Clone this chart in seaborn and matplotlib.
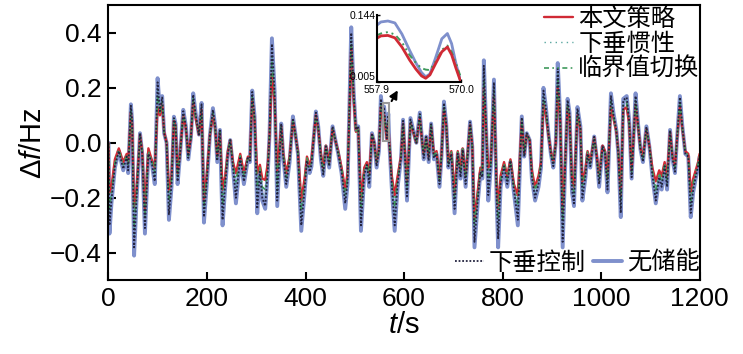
import matplotlib
matplotlib.use("Agg")
import matplotlib.pyplot as plt
from matplotlib.patches import Rectangle
import pandas as pd
import seaborn as sns

# time stamps (s) of the read-off points
t = [0, 2, 6, 13, 21, 30, 37, 40, 45.5, 48,
     52, 57, 64, 68.5, 74, 81, 87.5, 94, 99.7, 104.4,
     109, 113, 118, 122.7, 128, 132.8, 136.2, 140.3, 145, 151.8,
     157.2, 162, 167.4, 172, 176.8, 183.6, 189, 193.8, 199.2, 206,
     212, 216.7, 220.8, 226.2, 231.6, 237, 242.4, 247.2, 252.6, 258.7,
     267.5, 274.9, 283, 287, 291.8, 296.6, 302, 307.4, 312.2, 318.2,
     323.7, 327, 331.8, 337.2, 342.6, 350.7, 354.8, 360.9, 367.7, 374.4,
     379.2, 384.6, 391.4, 398.1, 402.9, 408.3, 412, 421, 425.8, 431.2,
     436, 441.4, 448.1, 454.9, 461.7, 466.4, 473.2, 480.6, 485.4, 490.1,
     492.8, 497.6, 502.3, 507, 512.5, 519.2, 524.6, 529.4, 534.8, 539.5,
     544.3, 549, 553, 556, 559.5, 562.6, 565, 568, 570, 575,
     581, 587, 593.7, 598, 606, 613, 620, 625, 632, 637,
     640, 645, 650, 655, 660.6, 666, 672, 676, 681, 685.7,
     690, 696, 702.6, 709, 714.8, 719, 725, 734, 738.5, 743,
     750, 755, 759, 762, 767, 771, 776, 782.5, 788, 791,
     796, 803, 809.6, 816, 823, 831, 839, 844, 849, 855,
     859.5, 866, 873, 878, 883, 888, 893, 898, 903, 908,
     912, 917, 922, 927, 932, 936, 941, 945, 952, 958,
     962, 968, 972.5, 978, 986, 991.5, 996, 1003, 1008, 1013,
     1020, 1025, 1031, 1035, 1040, 1045, 1052, 1057, 1062, 1070,
     1075, 1080, 1085, 1092, 1098, 1104, 1111, 1118, 1123, 1129,
     1134, 1140, 1145, 1150, 1154, 1160, 1165, 1171, 1177, 1182,
     1187, 1192, 1197, 1200]

# 无储能
no_storage = [0.0, -0.33, -0.22, -0.09, -0.03, -0.10, -0.05, -0.11, 0.14, 0.08,
              -0.41, -0.21, 0.035, -0.04, -0.33, -0.04, -0.07, -0.15, 0.235, 0.12,
              0.17, 0.035, 0.0, -0.28, -0.16, 0.095, 0.07, -0.15, -0.05, 0.12,
              0.06, -0.06, 0.02, 0.18, 0.11, 0.03, 0.145, -0.29, -0.16, 0.03,
              0.126, 0.06, -0.07, 0.047, -0.30, -0.16, -0.04, 0.01, -0.09, -0.22,
              -0.056, -0.15, -0.06, -0.07, 0.19, 0.096, -0.256, -0.11, -0.21, -0.24,
              -0.10, 0.035, 0.38, 0.19, -0.23, 0.07, -0.05, -0.16, -0.07, 0.096,
              0.035, -0.04, -0.32, -0.18, -0.07, -0.11, -0.086, 0.114, 0.06, -0.06,
              -0.12, -0.013, -0.09, 0.06, 0.0, -0.04, -0.11, -0.24, -0.15, 0.217,
              0.42, 0.19, 0.047, 0.06, -0.32, -0.12, -0.086, -0.16, 0.035, 0.0,
              -0.09, -0.03, 0.17, 0.12, 0.132, 0.07, 0.016, 0.106, 0.005, -0.16,
              -0.32, -0.16, -0.06, 0.084, -0.21, 0.09, 0.035, 0.0, 0.11, 0.0,
              -0.06, 0.023, -0.07, 0.07, -0.06, -0.04, -0.16, -0.05, 0.15, 0.07,
              -0.09, -0.04, -0.256, -0.04, -0.13, -0.025, -0.16, 0.077, -0.013, -0.38,
              -0.21, -0.11, -0.13, 0.30, 0.035, -0.21, -0.09, 0.23, -0.21, -0.38,
              -0.16, -0.09, -0.16, -0.07, -0.18, -0.30, 0.096, -0.05, 0.035, 0.01,
              -0.13, -0.21, -0.16, -0.09, 0.20, 0.13, 0.035, -0.04, -0.09, 0.0,
              0.29, 0.096, -0.38, -0.09, 0.16, 0.11, -0.18, -0.23, 0.13, 0.06,
              -0.21, -0.13, -0.04, -0.09, 0.023, -0.06, -0.16, -0.013, -0.04, -0.18,
              0.18, 0.11, 0.047, -0.04, -0.27, 0.16, 0.17, 0.084, -0.13, 0.18,
              0.07, -0.025, -0.07, 0.06, -0.013, -0.12, -0.22, -0.13, -0.17, -0.09,
              -0.17, 0.047, -0.06, -0.11, 0.01, 0.17, 0.06, -0.04, -0.05, -0.27,
              -0.18, -0.13, -0.09, -0.05]

# 下垂控制
droop = [0.0, -0.30, -0.21, -0.085, -0.03, -0.095, -0.05, -0.10, 0.135, 0.08,
         -0.38, -0.20, 0.035, -0.04, -0.31, -0.04, -0.07, -0.14, 0.22, 0.115,
         0.165, 0.035, 0.0, -0.26, -0.15, 0.09, 0.07, -0.14, -0.05, 0.115,
         0.06, -0.055, 0.02, 0.175, 0.105, 0.03, 0.14, -0.27, -0.15, 0.03,
         0.12, 0.06, -0.065, 0.045, -0.28, -0.15, -0.04, 0.01, -0.085, -0.20,
         -0.055, -0.14, -0.055, -0.065, 0.185, 0.09, -0.24, -0.105, -0.20, -0.23,
         -0.095, 0.035, 0.36, 0.185, -0.21, 0.07, -0.05, -0.15, -0.065, 0.09,
         0.035, -0.04, -0.30, -0.17, -0.065, -0.105, -0.08, 0.11, 0.06, -0.055,
         -0.115, -0.013, -0.085, 0.06, 0.0, -0.04, -0.105, -0.22, -0.14, 0.21,
         0.40, 0.185, 0.047, 0.06, -0.30, -0.115, -0.08, -0.15, 0.035, 0.0,
         -0.085, -0.03, 0.16, 0.115, 0.125, 0.066, 0.016, 0.10, 0.005, -0.15,
         -0.30, -0.15, -0.055, 0.08, -0.20, 0.085, 0.035, 0.0, 0.105, 0.0,
         -0.055, 0.022, -0.065, 0.068, -0.055, -0.04, -0.15, -0.05, 0.145, 0.068,
         -0.085, -0.04, -0.24, -0.04, -0.125, -0.025, -0.15, 0.075, -0.013, -0.36,
         -0.20, -0.105, -0.125, 0.28, 0.035, -0.19, -0.085, 0.22, -0.20, -0.35,
         -0.15, -0.085, -0.15, -0.065, -0.17, -0.28, 0.092, -0.05, 0.035, 0.01,
         -0.125, -0.20, -0.15, -0.085, 0.19, 0.125, 0.035, -0.04, -0.085, 0.0,
         0.27, 0.092, -0.36, -0.085, 0.155, 0.105, -0.17, -0.22, 0.125, 0.058,
         -0.20, -0.125, -0.04, -0.085, 0.022, -0.058, -0.15, -0.013, -0.04, -0.17,
         0.17, 0.105, 0.045, -0.04, -0.255, 0.155, 0.165, 0.08, -0.125, 0.17,
         0.068, -0.025, -0.068, 0.058, -0.013, -0.115, -0.21, -0.125, -0.16, -0.085,
         -0.16, 0.045, -0.058, -0.105, 0.01, 0.165, 0.058, -0.04, -0.05, -0.255,
         -0.17, -0.125, -0.085, -0.05]

# 下垂惯性
droop_inertia = [0.0, -0.27, -0.19, -0.08, -0.025, -0.085, -0.045, -0.09, 0.125, 0.075,
                 -0.34, -0.19, 0.033, -0.035, -0.28, -0.035, -0.065, -0.125, 0.20, 0.11,
                 0.155, 0.035, 0.0, -0.23, -0.14, 0.085, 0.065, -0.13, -0.045, 0.11,
                 0.055, -0.05, 0.02, 0.165, 0.10, 0.03, 0.13, -0.25, -0.14, 0.03,
                 0.115, 0.055, -0.06, 0.043, -0.25, -0.14, -0.035, 0.01, -0.08, -0.17,
                 -0.05, -0.13, -0.055, -0.065, 0.175, 0.09, -0.20, -0.095, -0.18, -0.20,
                 -0.09, 0.033, 0.33, 0.175, -0.18, 0.065, -0.045, -0.135, -0.06, 0.088,
                 0.033, -0.035, -0.27, -0.155, -0.06, -0.095, -0.075, 0.105, 0.055, -0.05,
                 -0.105, -0.012, -0.08, 0.055, 0.0, -0.035, -0.10, -0.20, -0.13, 0.20,
                 0.38, 0.175, 0.045, 0.056, -0.27, -0.105, -0.078, -0.135, 0.033, 0.0,
                 -0.08, -0.028, 0.15, 0.105, 0.109, 0.061, 0.030, 0.081, 0.012, -0.14,
                 -0.26, -0.14, -0.052, 0.075, -0.18, 0.08, 0.033, 0.0, 0.10, 0.0,
                 -0.05, 0.021, -0.06, 0.065, -0.05, -0.035, -0.145, -0.045, 0.135, 0.065,
                 -0.08, -0.035, -0.22, -0.035, -0.115, -0.023, -0.14, 0.072, -0.012, -0.33,
                 -0.19, -0.10, -0.115, 0.26, 0.033, -0.16, -0.08, 0.20, -0.18, -0.31,
                 -0.14, -0.08, -0.14, -0.065, -0.165, -0.25, 0.088, -0.045, 0.033, 0.01,
                 -0.115, -0.185, -0.14, -0.08, 0.175, 0.115, 0.033, -0.035, -0.08, 0.0,
                 0.25, 0.088, -0.32, -0.08, 0.145, 0.10, -0.155, -0.20, 0.115, 0.055,
                 -0.18, -0.115, -0.035, -0.08, 0.021, -0.055, -0.14, -0.012, -0.035, -0.155,
                 0.16, 0.10, 0.043, -0.035, -0.23, 0.145, 0.155, 0.078, -0.115, 0.16,
                 0.065, -0.023, -0.063, 0.055, -0.012, -0.105, -0.19, -0.115, -0.15, -0.08,
                 -0.15, 0.043, -0.055, -0.097, 0.01, 0.155, 0.055, -0.035, -0.047, -0.23,
                 -0.16, -0.115, -0.08, -0.048]

# 临界值切换
threshold_switch = [0.0, -0.24, -0.18, -0.075, -0.025, -0.08, -0.045, -0.085, 0.12, 0.073,
                    -0.30, -0.18, 0.032, -0.033, -0.27, -0.03, -0.063, -0.11, 0.17, 0.105,
                    0.15, 0.037, 0.0, -0.21, -0.13, 0.083, 0.063, -0.12, -0.043, 0.105,
                    0.053, -0.047, 0.02, 0.16, 0.095, 0.03, 0.125, -0.23, -0.13, 0.03,
                    0.11, 0.053, -0.055, 0.042, -0.22, -0.13, -0.033, 0.01, -0.075, -0.14,
                    -0.047, -0.12, -0.053, -0.063, 0.17, 0.085, -0.16, -0.09, -0.16, -0.17,
                    -0.08, 0.032, 0.30, 0.165, -0.15, 0.063, -0.043, -0.125, -0.055, 0.085,
                    0.032, -0.033, -0.24, -0.145, -0.055, -0.09, -0.07, 0.10, 0.053, -0.045,
                    -0.10, -0.011, -0.075, 0.053, 0.0, -0.033, -0.095, -0.19, -0.12, 0.19,
                    0.37, 0.17, 0.043, 0.053, -0.24, -0.10, -0.075, -0.125, 0.032, 0.0,
                    -0.075, -0.025, 0.14, 0.10, 0.105, 0.058, 0.025, 0.08, 0.01, -0.13,
                    -0.23, -0.13, -0.05, 0.072, -0.16, 0.075, 0.032, 0.0, 0.095, 0.0,
                    -0.045, 0.02, -0.055, 0.063, -0.045, -0.033, -0.14, -0.043, 0.13, 0.063,
                    -0.075, -0.033, -0.20, -0.033, -0.11, -0.022, -0.13, 0.07, -0.011, -0.30,
                    -0.18, -0.095, -0.11, 0.23, 0.032, -0.13, -0.075, 0.19, -0.165, -0.27,
                    -0.13, -0.075, -0.13, -0.063, -0.16, -0.22, 0.085, -0.043, 0.032, 0.01,
                    -0.11, -0.17, -0.13, -0.075, 0.16, 0.11, 0.032, -0.033, -0.075, 0.0,
                    0.23, 0.085, -0.29, -0.075, 0.14, 0.095, -0.145, -0.18, 0.11, 0.053,
                    -0.16, -0.11, -0.033, -0.075, 0.02, -0.053, -0.13, -0.011, -0.033, -0.145,
                    0.15, 0.095, 0.042, -0.033, -0.21, 0.135, 0.145, 0.075, -0.11, 0.15,
                    0.063, -0.022, -0.06, 0.053, -0.011, -0.10, -0.17, -0.11, -0.14, -0.075,
                    -0.14, 0.042, -0.053, -0.09, 0.01, 0.145, 0.053, -0.033, -0.045, -0.21,
                    -0.145, -0.105, -0.075, -0.045]

# 本文策略
proposed = [0.0, -0.18, -0.16, -0.06, -0.02, -0.07, -0.04, -0.07, 0.11, 0.07,
            -0.23, -0.17, 0.03, -0.03, -0.24, -0.02, -0.06, -0.09, 0.13, 0.10,
            0.14, 0.04, 0.0, -0.17, -0.12, 0.08, 0.06, -0.11, -0.04, 0.10,
            0.05, -0.04, 0.02, 0.15, 0.09, 0.03, 0.12, -0.21, -0.12, 0.03,
            0.10, 0.05, -0.05, 0.04, -0.17, -0.12, -0.03, 0.01, -0.07, -0.11,
            -0.04, -0.11, -0.05, -0.06, 0.16, 0.08, -0.11, -0.08, -0.13, -0.135,
            -0.07, 0.03, 0.25, 0.15, -0.10, 0.06, -0.04, -0.11, -0.05, 0.08,
            0.03, -0.03, -0.21, -0.13, -0.05, -0.08, -0.06, 0.10, 0.05, -0.04,
            -0.09, -0.01, -0.07, 0.05, 0.0, -0.03, -0.09, -0.17, -0.11, 0.17,
            0.35, 0.16, 0.04, 0.05, -0.21, -0.09, -0.07, -0.11, 0.03, 0.0,
            -0.07, -0.02, 0.13, 0.09, 0.10, 0.05, 0.013, 0.078, 0.005, -0.12,
            -0.19, -0.12, -0.05, 0.07, -0.14, 0.07, 0.03, 0.0, 0.09, 0.0,
            -0.04, 0.02, -0.05, 0.06, -0.04, -0.03, -0.13, -0.04, 0.12, 0.06,
            -0.07, -0.03, -0.18, -0.03, -0.10, -0.02, -0.12, 0.065, -0.01, -0.28,
            -0.17, -0.09, -0.10, 0.20, 0.03, -0.09, -0.07, 0.17, -0.15, -0.24,
            -0.12, -0.07, -0.12, -0.06, -0.15, -0.19, 0.08, -0.04, 0.03, 0.01,
            -0.10, -0.16, -0.12, -0.07, 0.14, 0.10, 0.03, -0.03, -0.07, 0.0,
            0.20, 0.08, -0.25, -0.07, 0.13, 0.09, -0.13, -0.16, 0.10, 0.05,
            -0.14, -0.10, -0.03, -0.07, 0.02, -0.05, -0.12, -0.01, -0.03, -0.13,
            0.13, 0.09, 0.04, -0.03, -0.19, 0.12, 0.13, 0.07, -0.10, 0.14,
            0.06, -0.02, -0.05, 0.05, -0.01, -0.09, -0.14, -0.10, -0.12, -0.07,
            -0.12, 0.04, -0.05, -0.08, 0.01, 0.13, 0.05, -0.03, -0.04, -0.18,
            -0.13, -0.10, -0.07, -0.04]

# zoomed window 557.9 - 570.0 s
zoom_t = [557.9, 558.5, 559.5, 560.5, 561.5, 562.6, 563.5, 564.3, 564.9,
          565.5, 566.3, 567.2, 568.0, 568.6, 569.2, 569.8, 570.0]
zoom_no_storage = [0.123, 0.130, 0.132, 0.128, 0.105, 0.071, 0.045, 0.025, 0.016,
                   0.022, 0.055, 0.095, 0.106, 0.085, 0.045, 0.012, 0.005]
zoom_inertia = [0.102, 0.106, 0.109, 0.104, 0.088, 0.061, 0.045, 0.034, 0.031,
                0.030, 0.048, 0.072, 0.081, 0.068, 0.045, 0.020, 0.012]
zoom_proposed = [0.096, 0.101, 0.102, 0.097, 0.078, 0.051, 0.032, 0.018, 0.013,
                 0.020, 0.043, 0.068, 0.078, 0.062, 0.035, 0.010, 0.005]

BLUE = "#7f90cc"
RED = "#d02a35"
GREEN = "#3f9a5c"
DOTS = "#23233f"

sns.set_theme(style="ticks")
plt.rcParams["font.family"] = ["Liberation Sans", "Noto Sans CJK SC"]
plt.rcParams["mathtext.fontset"] = "custom"
plt.rcParams["mathtext.it"] = "Liberation Sans:italic"
plt.rcParams["mathtext.rm"] = "Liberation Sans"
plt.rcParams["text.color"] = "black"
plt.rcParams["axes.labelcolor"] = "black"
plt.rcParams["xtick.color"] = "black"
plt.rcParams["ytick.color"] = "black"

df = pd.DataFrame({"t": t, "no_storage": no_storage, "droop": droop,
                   "inertia": droop_inertia, "switch": threshold_switch,
                   "proposed": proposed})
dz = pd.DataFrame({"t": zoom_t, "no_storage": zoom_no_storage,
                   "inertia": zoom_inertia, "proposed": zoom_proposed})

fig = plt.figure(figsize=(7.43, 3.54), dpi=100)
ax = fig.add_axes([0.146, 0.208, 0.7956, 0.777])

sns.lineplot(data=df, x="t", y="no_storage", ax=ax, color=BLUE, lw=2.8)
sns.lineplot(data=df, x="t", y="proposed", ax=ax, color=RED, lw=1.7)
sns.lineplot(data=df, x="t", y="inertia", ax=ax, color="#5aa7a0", lw=1.0,
             linestyle=(0, (1, 3)))
sns.lineplot(data=df, x="t", y="switch", ax=ax, color=GREEN, lw=1.2,
             linestyle=(0, (3, 2, 1, 2, 1, 2)))
sns.lineplot(data=df, x="t", y="droop", ax=ax, color=DOTS, lw=1.3,
             linestyle=(0, (1, 1)))
h_blue, h_red, h_inertia, h_switch, h_droop = ax.lines[:5]

ax.set_xlim(0, 1200)
ax.set_ylim(-0.5, 0.5)
ax.set_xticks(range(0, 1201, 200))
ax.set_yticks([-0.4, -0.2, 0.0, 0.2, 0.4])
ax.tick_params(direction="in", length=6, width=1.5, labelsize=19, pad=5,
               colors="black")
for s in ax.spines.values():
    s.set_linewidth(1.5)
    s.set_color("black")
ax.set_xlabel("$t$/s", fontsize=21, labelpad=0)
ax.set_ylabel("Δ$f$/Hz", fontsize=21, labelpad=2)

leg1 = ax.legend([h_red, h_inertia, h_switch], ["本文策略", "下垂惯性", "临界值切换"],
                 loc="upper right", bbox_to_anchor=(1.0, 0.99), frameon=False,
                 fontsize=17.5, handlelength=1.2, handletextpad=0.2,
                 labelspacing=0.1, borderpad=0, borderaxespad=0)
ax.add_artist(leg1)
ax.legend([h_droop, h_blue], ["下垂控制", "无储能"], loc="lower right",
          bbox_to_anchor=(1.0, 0.02), frameon=False, fontsize=17.5, ncol=2,
          handlelength=1.2, handletextpad=0.2, columnspacing=0.3,
          borderpad=0, borderaxespad=0)

# zoom box and arrow
ax.add_patch(Rectangle((557.9, 0.005), 12.1, 0.139, fill=False,
                       edgecolor="#9a9a9a", lw=1.5, zorder=6))
ax.annotate("", xy=(590, 0.2), xytext=(572, 0.143),
            arrowprops=dict(arrowstyle="-|>", color="black", lw=1.5,
                            mutation_scale=12), zorder=7)

# inset
axin = fig.add_axes([0.507, 0.768, 0.114, 0.189])
sns.lineplot(data=dz, x="t", y="no_storage", ax=axin, color=BLUE, lw=2.0)
sns.lineplot(data=dz, x="t", y="inertia", ax=axin, color=GREEN, lw=1.4,
             linestyle=(0, (3, 2, 1, 2, 1, 2)))
sns.lineplot(data=dz, x="t", y="proposed", ax=axin, color=RED, lw=2.0)
axin.set_xlim(557.9, 570.0)
axin.set_ylim(0.005, 0.144)
axin.set_xticks([557.9, 570.0])
axin.set_xticklabels(["557.9", "570.0"])
axin.set_yticks([0.005, 0.144])
axin.set_yticklabels(["0.005", "0.144"])
axin.tick_params(direction="in", length=2, width=1, labelsize=7.5, pad=1,
                 colors="black")
axin.tick_params(axis="x", pad=2)
axin.get_yticklabels()[0].set_va("bottom")
axin.set_xlabel("")
axin.set_ylabel("")
axin.spines["top"].set_visible(False)
axin.spines["right"].set_visible(False)
for s in ("left", "bottom"):
    axin.spines[s].set_linewidth(1.5)
    axin.spines[s].set_color("black")
axin.patch.set_alpha(0)

fig.savefig("out.png", dpi=100)
